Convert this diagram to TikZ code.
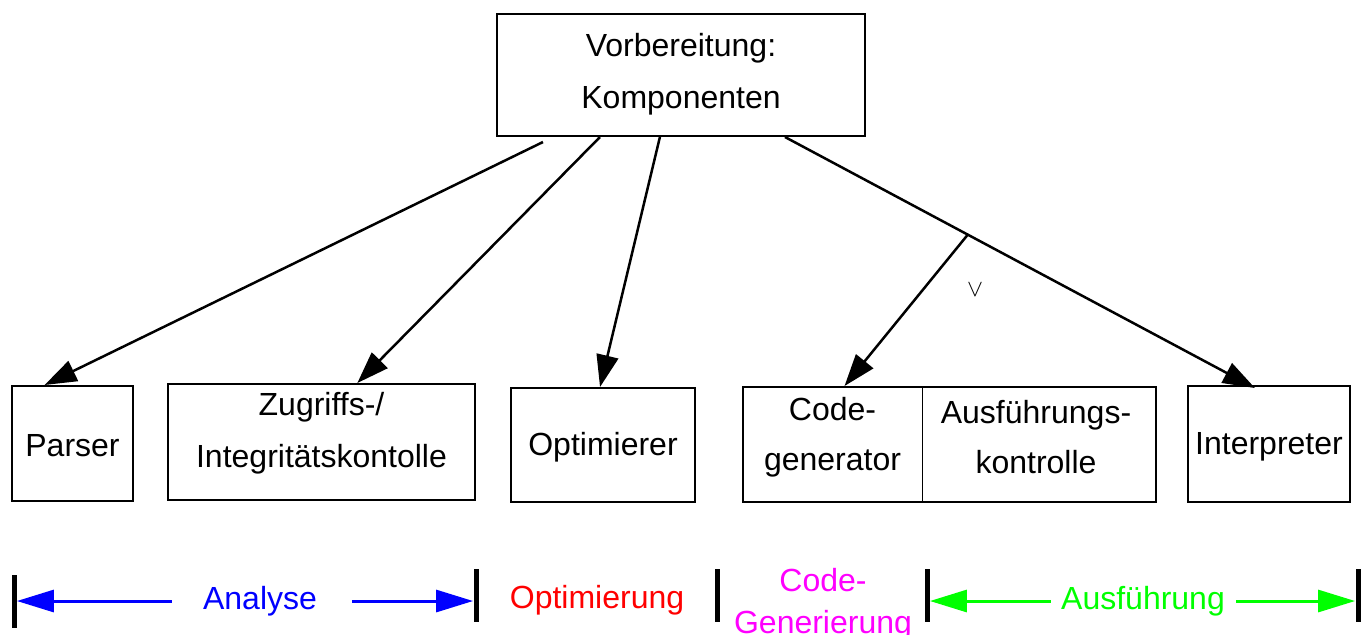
\documentclass[tikz,border=0pt]{standalone}
\usepackage{fontspec}
\setmainfont{Liberation Sans}
\usetikzlibrary{arrows.meta,calc}
\definecolor{agreen}{RGB}{0,255,0}
\definecolor{amag}{RGB}{255,0,255}
\begin{document}
\begin{tikzpicture}[x=0.5pt,y=-0.5pt,
  box/.style={draw,line width=1pt,rectangle,inner sep=0pt},
  txt/.style={font=\fontsize{16}{26}\selectfont,align=center,inner sep=0pt},
  btxt/.style={font=\fontsize{16}{21}\selectfont,align=center,inner sep=0pt},
  conn/.style={line width=1.25pt,-{Triangle[length=16pt,width=11pt]}},
  barr/.style={line width=1.5pt,-{Triangle[length=18.5pt,width=11pt]}},
  bar/.style={fill=black,inner sep=0pt,minimum width=2.5pt,minimum height=26.5pt}]
\useasboundingbox (0,0) rectangle (1369,634);
% boxes
\node[box,minimum width=184pt,minimum height=61pt] (top) at (681,75) {};
\node[txt] at (681,74) {Vorbereitung:\\Komponenten};
\node[box,minimum width=60.5pt,minimum height=57.5pt] (parser) at (72.5,443.5) {};
\node[txt] at (72.5,446) {Parser};
\node[box,minimum width=153.5pt,minimum height=58pt] (zug) at (321.5,442) {};
\node[txt] at (321.5,433) {Zugriffs-/\\Integritätskontolle};
\node[box,minimum width=92pt,minimum height=57pt] (opt) at (603,445) {};
\node[txt] at (603,447) {Optimierer};
\node[box,minimum width=206.5pt,minimum height=57.5pt] (code) at (949.5,444.5) {};
\draw[line width=0.5pt] (922,387) -- (922,502);
\node[txt,font=\fontsize{16}{25}\selectfont] at (832.5,437) {Code-\\generator};
\node[txt,font=\fontsize{16}{25}\selectfont] at (1036,437) {Ausführungs-\\kontrolle};
\node[box,minimum width=81pt,minimum height=58pt] (interp) at (1269,444) {};
\node[txt] at (1269,447) {Interpreter};
% connectors
\coordinate (s1) at ($(top.south west)!0.127!(top.south east)+(0,5)$);
\coordinate (s2) at ($(top.south west)!0.281!(top.south east)$);
\coordinate (s3) at ($(top.south west)!0.443!(top.south east)$);
\coordinate (s4) at ($(top.south west)!0.781!(top.south east)$);
\coordinate (e1) at ($(parser.north west)!0.273!(parser.north east)$);
\coordinate (e2) at ($(zug.north west)!0.616!(zug.north east)$);
\coordinate (e3) at ($(opt.north west)!0.484!(opt.north east)$);
\coordinate (e4) at ($(code.north west)!0.247!(code.north east)$);
\coordinate (e5) at ($(interp.north west)!0.414!(interp.north east)+(0,3)$);
\draw[conn] (s1) -- (e1);
\draw[conn] (s2) -- (e2);
\draw[conn] (s3) -- (e3);
\draw[conn] (s4) -- (e5);
\coordinate (br) at ($(s4)!0.389!(e5)$);
\draw[conn] (br) -- (e4);
\node[inner sep=0pt,font=\fontsize{13}{13}\selectfont] (or) at (975,290) {$\vee$};
% bottom
\node[bar] (b1) at (14,601.5) {};
\node[bar] (b2) at (476,595) {};
\node[bar] (b3) at (717,595) {};
\node[bar] (b4) at (927,595) {};
\node[bar] (b5) at (1358,595) {};
\node[btxt,text=blue] (ana) at (260,601) {Analyse};
\node[btxt,text=red] (optl) at (597,600) {Optimierung};
\node[btxt,text=amag] (cg) at (823,604) {Code-\\Generierung};
\node[btxt,text=agreen] (aus) at (1143,601) {Ausführung};
\draw[barr,blue] ([xshift=-15.5pt]ana.west) -- (b1.east |- ana.west);
\draw[barr,blue] ([xshift=17.5pt]ana.east) -- (b2.west |- ana.east);
\draw[barr,agreen] ([xshift=-5pt]aus.west) -- (b4.east |- aus.west);
\draw[barr,agreen] ([xshift=5.5pt]aus.east) -- (b5.west |- aus.east);
\end{tikzpicture}
\end{document}
